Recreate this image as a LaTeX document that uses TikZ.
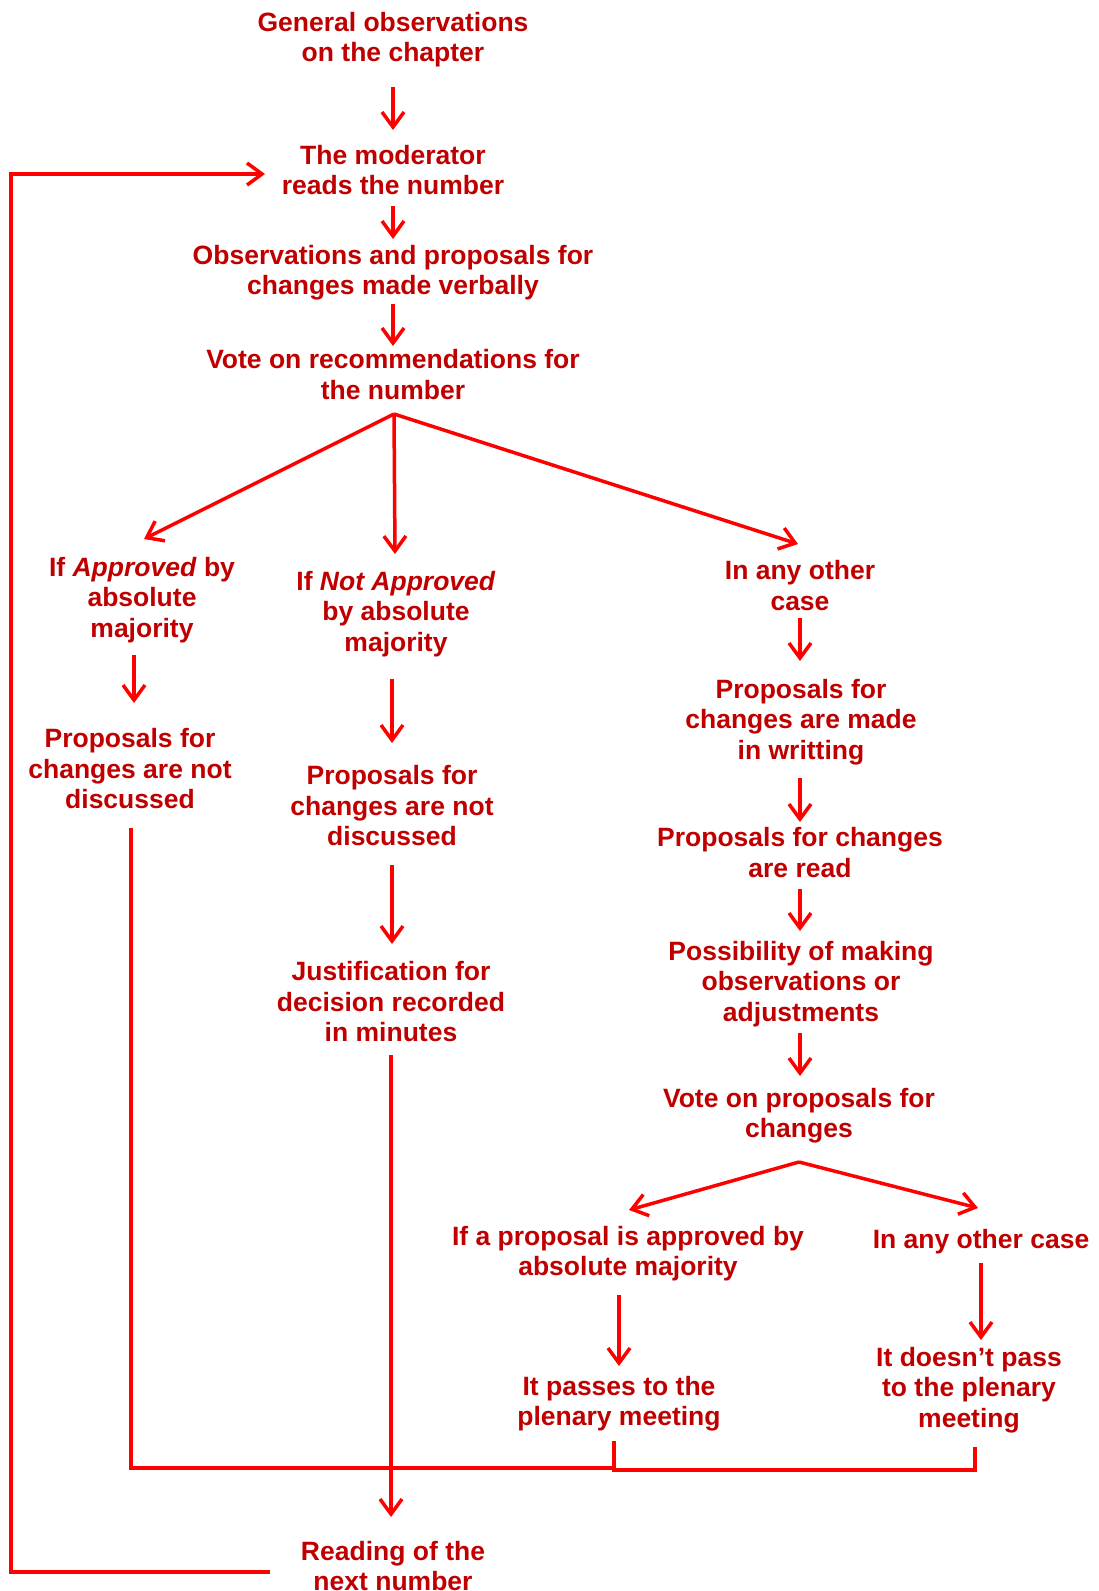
\documentclass[tikz,border=0pt]{standalone}
\usepackage{fontspec}
\setmainfont{Liberation Sans}
\usetikzlibrary{arrows.meta}
\definecolor{txt}{RGB}{192,0,0}
\definecolor{ln}{RGB}{255,0,0}
\begin{document}
\begin{tikzpicture}[x=1pt,y=-1pt,
  lbl/.style={text=txt, font=\bfseries\fontsize{26.5pt}{30.5pt}\selectfont, align=center, inner sep=0pt},
  conn/.style={draw=ln, line width=3.5pt},
  arr/.style={conn, -{Straight Barb[length=15pt,width=22pt]}}]
\useasboundingbox (0,0) rectangle (1099,1591);
\fill[white] (0,0) rectangle (1099,1591);

% nodes
\node[lbl] (n1) at (393,39.5) {General observations\\on the chapter};
\node[lbl] (n2) at (393,170) {The moderator\\reads the number};
\node[lbl] (n3) at (393,272.5) {Observations and proposals for\\changes made verbally};
\node[lbl] (n4) at (393,374.5) {Vote on recommendations for\\the number};
\node[lbl] (a1) at (142,600) {If \textit{Approved} by\\absolute\\majority};
\node[lbl] (a2) at (130,769) {Proposals for\\changes are not\\discussed};
\node[lbl] (b1) at (396,614) {If \textit{Not Approved}\\by absolute\\majority};
\node[lbl] (b2) at (392,806) {Proposals for\\changes are not\\discussed};
\node[lbl] (b3) at (391,1002) {Justification for\\decision recorded\\in minutes};
\node[lbl] (c1) at (800,585.5) {In any other\\case};
\node[lbl] (c2) at (801,722) {Proposals for\\changes are made\\in writting};
\node[lbl] (c3) at (800,852.5) {Proposals for changes\\are read};
\node[lbl] (c4) at (801,984) {Possibility of making\\observations or\\adjustments};
\node[lbl] (c5) at (799,1115.5) {Vote on proposals for\\changes};
\node[lbl] (d1) at (628,1253.5) {If a proposal is approved by\\absolute majority};
\node[lbl] (e1) at (981,1242) {In any other case};
\node[lbl] (d2) at (619,1403.5) {It passes to the\\plenary meeting};
\node[lbl] (e2) at (969,1390) {It doesn’t pass\\to the plenary\\meeting};
\node[lbl] (r) at (393,1566) {Reading of the\\next number};

% connector end points
\coordinate (p1) at (393,87);   \coordinate (p2) at (393,130);
\coordinate (p3) at (393,206);  \coordinate (p4) at (393,239);
\coordinate (p5) at (393,304);  \coordinate (p6) at (393,346);
\coordinate (t0) at (394,414);
\coordinate (ta) at (144,539);  \coordinate (tb) at (395,554);  \coordinate (tc) at (798,544);
\coordinate (q1) at (134,655);  \coordinate (q2) at (134,703);
\coordinate (q3) at (131,828);  \coordinate (q4) at (131,1468); \coordinate (q5) at (614,1468);
\coordinate (m1) at (392,679);  \coordinate (m2) at (392,743);
\coordinate (m3) at (392,865);  \coordinate (m4) at (392,944);
\coordinate (m5) at (391,1055); \coordinate (m6) at (391,1517);
\coordinate (k1) at (800,618);  \coordinate (k2) at (800,661);
\coordinate (k3) at (800,778);  \coordinate (k4) at (800,822);
\coordinate (k5) at (800,889);  \coordinate (k6) at (800,931);
\coordinate (k7) at (800,1033); \coordinate (k8) at (800,1076);
\coordinate (s0) at (799,1162); \coordinate (sa) at (629,1210); \coordinate (sb) at (978,1208);
\coordinate (u1) at (619,1295); \coordinate (u2) at (619,1366);
\coordinate (v1) at (981,1263); \coordinate (v2) at (981,1340);
\coordinate (w1) at (614,1441); \coordinate (w2) at (614,1470);
\coordinate (w3) at (975,1470); \coordinate (w4) at (975,1447);
\coordinate (f1) at (270,1572); \coordinate (f2) at (11,1572);
\coordinate (f3) at (11,174);   \coordinate (f4) at (265,174);

% connectors
\draw[arr] (p1) -- (p2);
\draw[arr] (p3) -- (p4);
\draw[arr] (p5) -- (p6);
\draw[arr] (t0) -- (ta);
\draw[arr] (t0) -- (tb);
\draw[arr] (t0) -- (tc);
\draw[arr] (q1) -- (q2);
\draw[conn] (q3) -- (q4) -- (q5);
\draw[arr] (m1) -- (m2);
\draw[arr] (m3) -- (m4);
\draw[arr] (m5) -- (m6);
\draw[arr] (k1) -- (k2);
\draw[arr] (k3) -- (k4);
\draw[arr] (k5) -- (k6);
\draw[arr] (k7) -- (k8);
\draw[arr] (s0) -- (sa);
\draw[arr] (s0) -- (sb);
\draw[arr] (u1) -- (u2);
\draw[arr] (v1) -- (v2);
\draw[conn] (w1) -- (w2) -- (w3) -- (w4);
\draw[arr] (f1) -- (f2) -- (f3) -- (f4);
\end{tikzpicture}
\end{document}
